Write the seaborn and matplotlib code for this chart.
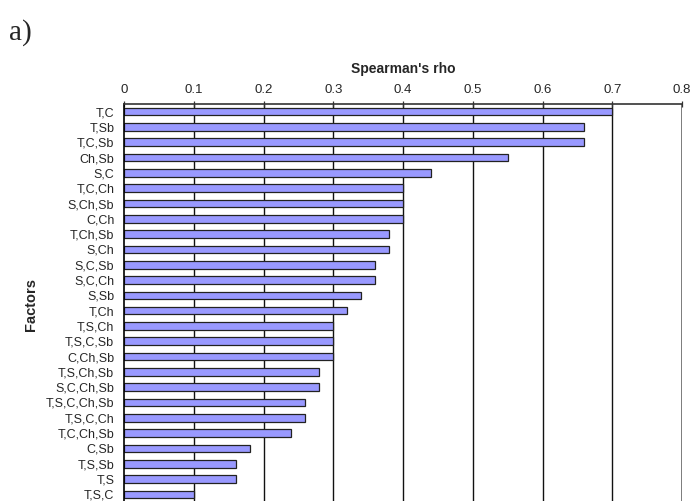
import matplotlib
matplotlib.use("Agg")
import matplotlib.pyplot as plt
import seaborn as sns
import pandas as pd

factors = ["T,C", "T,Sb", "T,C,Sb", "Ch,Sb", "S,C", "T,C,Ch", "S,Ch,Sb", "C,Ch",
           "T,Ch,Sb", "S,Ch", "S,C,Sb", "S,C,Ch", "S,Sb", "T,Ch", "T,S,Ch",
           "T,S,C,Sb", "C,Ch,Sb", "T,S,Ch,Sb", "S,C,Ch,Sb", "T,S,C,Ch,Sb",
           "T,S,C,Ch", "T,C,Ch,Sb", "C,Sb", "T,S,Sb", "T,S", "T,S,C"]
rho = [0.70, 0.66, 0.66, 0.55, 0.44, 0.40, 0.40, 0.40, 0.38, 0.38, 0.36, 0.36,
       0.34, 0.32, 0.30, 0.30, 0.30, 0.28, 0.28, 0.26, 0.26, 0.24, 0.18, 0.16,
       0.16, 0.10]
x_ticks = [0, 0.1, 0.2, 0.3, 0.4, 0.5, 0.6, 0.7, 0.8]
x_tick_labels = ["0", "0.1", "0.2", "0.3", "0.4", "0.5", "0.6", "0.7", "0.8"]

df = pd.DataFrame({"factor": factors, "rho": rho})

sns.set_theme(style="white")
plt.rcParams["font.family"] = ["Liberation Sans", "DejaVu Sans"]

fig = plt.figure(figsize=(6.94, 5.01), dpi=100)
ax = fig.add_axes([124 / 694, -1 / 501, (682 - 124) / 694, (502 - 104) / 501])

# vertical gridlines, kept behind the bars
for t in x_ticks[1:-1]:
    ax.axvline(t, color="#111111", lw=1.0, zorder=0.5)
ax.axvline(0.8, color="#666666", lw=1.2, zorder=0.5)

sns.barplot(data=df, x="rho", y="factor", orient="h", ax=ax, width=0.5,
            color="#9999FF", saturation=1, edgecolor="#222222", linewidth=0.9)
for p in ax.patches:
    p.set_zorder(3)

ax.set_xlim(0, 0.8)
ax.set_ylim(len(factors) - 0.5, -0.5)
ax.xaxis.tick_top()
ax.xaxis.set_label_position("top")
ax.set_xticks(x_ticks)
ax.set_xticklabels(x_tick_labels, fontsize=9.5)
ax.tick_params(axis="x", direction="inout", length=5, width=0.9, color="#333333",
               pad=3, top=True, bottom=False)
ax.tick_params(axis="y", length=0, pad=7, labelsize=9)
ax.set_xlabel("Spearman's rho", fontsize=10, fontweight="bold", labelpad=8)
ax.set_ylabel("Factors", fontsize=10.5, fontweight="bold")
ax.yaxis.set_label_coords(-(124 - 38) / 558, 0.495)

for side in ["top", "left"]:
    ax.spines[side].set_visible(True)
    ax.spines[side].set_color("#333333")
    ax.spines[side].set_linewidth(1.2)
    ax.spines[side].set_zorder(4)
ax.spines["left"].set_color("#000000")
ax.spines["right"].set_visible(False)
ax.spines["bottom"].set_visible(False)

fig.text(9 / 694, 1 - 40 / 501, "a)", fontsize=21,
         family=["Liberation Serif", "DejaVu Serif"])

fig.savefig("out.png", dpi=100)
